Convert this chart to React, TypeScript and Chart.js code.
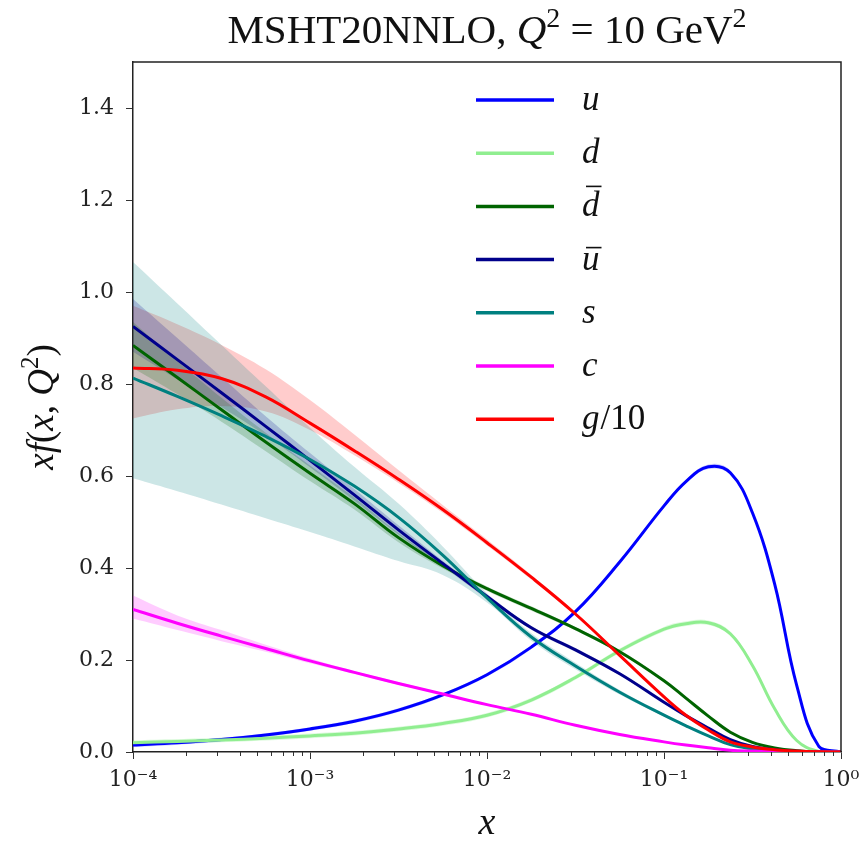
import React, { useEffect, useRef } from "react";
import { Chart, registerables } from "chart.js";
Chart.register(...registerables);

// ---------------- data ----------------
const xValues = [0.0001, 0.000178, 0.000316, 0.000562, 0.001, 0.00178, 0.00316, 0.00562, 0.01, 0.0178, 0.0316, 0.0562, 0.1, 0.133, 0.178, 0.237, 0.316, 0.422, 0.562, 0.75, 1.0];

const uMid = [0.015, 0.02, 0.027, 0.037, 0.05, 0.067, 0.091, 0.124, 0.168, 0.228, 0.305, 0.413, 0.535, 0.588, 0.62, 0.607, 0.52, 0.365, 0.145, 0.012, 0];
const uLo = [0.011, 0.016, 0.023, 0.033, 0.046, 0.063, 0.087, 0.120, 0.164, 0.224, 0.301, 0.409, 0.531, 0.584, 0.615, 0.602, 0.516, 0.361, 0.142, 0.011, 0];
const uHi = [0.019, 0.024, 0.031, 0.041, 0.054, 0.071, 0.095, 0.128, 0.172, 0.232, 0.309, 0.417, 0.539, 0.592, 0.625, 0.612, 0.524, 0.369, 0.148, 0.013, 0];

const dMid = [0.02, 0.023, 0.026, 0.03, 0.035, 0.041, 0.05, 0.062, 0.08, 0.113, 0.162, 0.22, 0.267, 0.279, 0.281, 0.257, 0.188, 0.094, 0.025, 0.001, 0];
const dLo = [0.015, 0.018, 0.021, 0.025, 0.030, 0.036, 0.045, 0.057, 0.075, 0.108, 0.157, 0.215, 0.262, 0.274, 0.276, 0.252, 0.184, 0.091, 0.024, 0.001, 0];
const dHi = [0.025, 0.028, 0.031, 0.035, 0.040, 0.046, 0.055, 0.067, 0.085, 0.118, 0.167, 0.225, 0.272, 0.284, 0.286, 0.262, 0.192, 0.097, 0.026, 0.001, 0];

const dbarMid = [0.884, 0.814, 0.744, 0.674, 0.606, 0.54, 0.466, 0.405, 0.355, 0.312, 0.268, 0.218, 0.155, 0.117, 0.078, 0.043, 0.021, 0.009, 0.003, 0.0005, 0];
const dbarLo = [0.835, 0.778, 0.718, 0.654, 0.589, 0.527, 0.456, 0.399, 0.35, 0.307, 0.264, 0.214, 0.152, 0.115, 0.077, 0.042, 0.021, 0.009, 0.003, 0.0005, 0];
const dbarHi = [0.935, 0.85, 0.77, 0.694, 0.623, 0.553, 0.476, 0.411, 0.36, 0.317, 0.272, 0.222, 0.158, 0.119, 0.079, 0.044, 0.021, 0.009, 0.003, 0.0005, 0];

const ubarMid = [0.925, 0.853, 0.781, 0.708, 0.634, 0.559, 0.483, 0.41, 0.338, 0.27, 0.222, 0.17, 0.108, 0.079, 0.052, 0.027, 0.012, 0.005, 0.0015, 0, 0];
const ubarLo = [0.87, 0.81, 0.75, 0.688, 0.619, 0.547, 0.473, 0.404, 0.333, 0.266, 0.218, 0.167, 0.106, 0.078, 0.051, 0.026, 0.012, 0.005, 0.0015, 0, 0];
const ubarHi = [0.985, 0.9, 0.815, 0.73, 0.65, 0.572, 0.493, 0.416, 0.343, 0.274, 0.226, 0.173, 0.11, 0.08, 0.053, 0.028, 0.012, 0.005, 0.0015, 0, 0];

const sMid = [0.813, 0.773, 0.731, 0.686, 0.636, 0.578, 0.51, 0.428, 0.335, 0.25, 0.187, 0.13, 0.08, 0.057, 0.035, 0.016, 0.007, 0.002, 0.0005, 0, 0];
const sLo = [0.595, 0.567, 0.538, 0.508, 0.478, 0.447, 0.415, 0.385, 0.325, 0.242, 0.18, 0.125, 0.077, 0.055, 0.034, 0.015, 0.007, 0.002, 0.0005, 0, 0];
const sHi = [1.065, 0.975, 0.885, 0.795, 0.705, 0.62, 0.54, 0.447, 0.345, 0.258, 0.194, 0.135, 0.083, 0.059, 0.036, 0.017, 0.007, 0.002, 0.0005, 0, 0];

const cMid = [0.31, 0.28, 0.252, 0.225, 0.198, 0.173, 0.149, 0.126, 0.103, 0.082, 0.058, 0.038, 0.022, 0.015, 0.009, 0.004, 0.002, 0.001, 0, 0, 0];
const cLo = [0.29, 0.265, 0.241, 0.218, 0.193, 0.170, 0.146, 0.124, 0.101, 0.080, 0.057, 0.037, 0.021, 0.014, 0.009, 0.004, 0.002, 0.001, 0, 0, 0];
const cHi = [0.34, 0.297, 0.265, 0.233, 0.203, 0.176, 0.152, 0.128, 0.105, 0.084, 0.059, 0.039, 0.023, 0.016, 0.009, 0.004, 0.002, 0.001, 0, 0, 0];

const gMid = [0.835, 0.83, 0.812, 0.772, 0.715, 0.655, 0.593, 0.527, 0.455, 0.38, 0.30, 0.21, 0.12, 0.08, 0.048, 0.022, 0.011, 0.005, 0.002, 0.0005, 0];
const gLo = [0.725, 0.745, 0.752, 0.74, 0.70, 0.645, 0.585, 0.52, 0.449, 0.375, 0.296, 0.207, 0.118, 0.079, 0.047, 0.022, 0.011, 0.005, 0.002, 0.0005, 0];
const gHi = [0.97, 0.93, 0.885, 0.832, 0.765, 0.69, 0.613, 0.537, 0.462, 0.385, 0.304, 0.213, 0.122, 0.081, 0.049, 0.022, 0.011, 0.005, 0.002, 0.0005, 0];

const seriesNames = ["u", "d", "dbar", "ubar", "s", "c", "g/10"];
const seriesColors = ["#0000ff", "#90ee90", "#006400", "#00008b", "#008080", "#ff00ff", "#ff0000"];
const bandColors = [
  "rgba(0,0,255,0.2)",
  "rgba(144,238,144,0.3)",
  "rgba(0,100,0,0.2)",
  "rgba(0,0,139,0.2)",
  "rgba(0,128,128,0.2)",
  "rgba(255,0,255,0.2)",
  "rgba(255,0,0,0.2)",
];

const xTickValues = [0.0001, 0.001, 0.01, 0.1, 1];
const xTickLabels = ["10\u207B\u2074", "10\u207B\u00B3", "10\u207B\u00B2", "10\u207B\u00B9", "10\u2070"];
const xMinorTicks = [
  0.0002, 0.0003, 0.0004, 0.0005, 0.0006, 0.0007, 0.0008, 0.0009,
  0.002, 0.003, 0.004, 0.005, 0.006, 0.007, 0.008, 0.009,
  0.02, 0.03, 0.04, 0.05, 0.06, 0.07, 0.08, 0.09,
  0.2, 0.3, 0.4, 0.5, 0.6, 0.7, 0.8, 0.9,
];
const yTickValues = [0, 0.2, 0.4, 0.6, 0.8, 1.0, 1.2, 1.4];

// legend labels: [italic part, upright part, overbar]
const legendParts: [string, string, boolean][] = [
  ["u", "", false],
  ["d", "", false],
  ["d", "", true],
  ["u", "", true],
  ["s", "", false],
  ["c", "", false],
  ["g", "/10", false],
];

const SERIF = "'Liberation Serif', 'DejaVu Serif', serif";
const TICKFONT = "'DejaVu Serif', serif";

type Part = { t: string; f: string; dy?: number };

function drawParts(ctx: CanvasRenderingContext2D, parts: Part[], cx: number, y: number) {
  let total = 0;
  for (const p of parts) {
    ctx.font = p.f;
    total += ctx.measureText(p.t).width;
  }
  let x = cx - total / 2;
  ctx.textAlign = "left";
  ctx.textBaseline = "alphabetic";
  for (const p of parts) {
    ctx.font = p.f;
    ctx.fillText(p.t, x, y + (p.dy || 0));
    x += ctx.measureText(p.t).width;
  }
}

const decorPlugin = {
  id: "decor",
  afterDraw(chart: any) {
    const ctx: CanvasRenderingContext2D = chart.ctx;
    const { left, right, top, bottom } = chart.chartArea;
    const xs = chart.scales.x;
    ctx.save();
    // frame (top & right spines)
    ctx.strokeStyle = "#222";
    ctx.lineWidth = 1.5;
    ctx.beginPath();
    ctx.moveTo(left, top);
    ctx.lineTo(right, top);
    ctx.lineTo(right, bottom);
    ctx.stroke();
    // minor ticks
    ctx.lineWidth = 1;
    ctx.strokeStyle = "#333";
    ctx.beginPath();
    for (const v of xMinorTicks) {
      const px = Math.round(xs.getPixelForValue(v)) + 0.5;
      ctx.moveTo(px, bottom);
      ctx.lineTo(px, bottom + 4);
    }
    ctx.stroke();

    ctx.fillStyle = "#111";
    // title
    drawParts(
      ctx,
      [
        { t: "MSHT20NNLO, ", f: `41px ${SERIF}` },
        { t: "Q", f: `italic 41px ${SERIF}` },
        { t: "2", f: `28px ${SERIF}`, dy: -16 },
        { t: " = 10 GeV", f: `41px ${SERIF}` },
        { t: "2", f: `28px ${SERIF}`, dy: -16 },
      ],
      (left + right) / 2,
      43
    );
    // x-axis title
    drawParts(ctx, [{ t: "x", f: `italic 38px ${SERIF}` }], (left + right) / 2, 834);
    // y-axis title (rotated)
    ctx.save();
    ctx.translate(53, (top + bottom) / 2);
    ctx.rotate(-Math.PI / 2);
    drawParts(
      ctx,
      [
        { t: "xf", f: `italic 37px ${SERIF}` },
        { t: "(", f: `37px ${SERIF}` },
        { t: "x", f: `italic 37px ${SERIF}` },
        { t: ", ", f: `37px ${SERIF}` },
        { t: "Q", f: `italic 37px ${SERIF}` },
        { t: "2", f: `25px ${SERIF}`, dy: -15 },
        { t: ")", f: `37px ${SERIF}` },
      ],
      0,
      0
    );
    ctx.restore();

    // legend
    const lx0 = 476, lx1 = 554, tx = 582;
    const rowY0 = 100, rowStep = 53.2;
    for (let i = 0; i < seriesNames.length; i++) {
      const y = rowY0 + i * rowStep;
      ctx.strokeStyle = seriesColors[i];
      ctx.lineWidth = 3.5;
      ctx.beginPath();
      ctx.moveTo(lx0, y);
      ctx.lineTo(lx1, y);
      ctx.stroke();
      const [it, up, bar] = legendParts[i];
      ctx.fillStyle = "#111";
      ctx.textAlign = "left";
      ctx.textBaseline = "alphabetic";
      ctx.font = `italic 35px ${SERIF}`;
      const base = y + 10;
      ctx.fillText(it, tx, base);
      const w = ctx.measureText(it).width;
      if (bar) {
        ctx.strokeStyle = "#111";
        ctx.lineWidth = 1.6;
        ctx.beginPath();
        const top2 = it === "d" ? base - 30 : base - 22;
        ctx.moveTo(tx + 4, top2);
        ctx.lineTo(tx + w + 2, top2);
        ctx.stroke();
      }
      if (up) {
        ctx.font = `35px ${SERIF}`;
        ctx.fillText(up, tx + w + 1, base);
      }
    }
    ctx.restore();
  },
};

export default function App() {
  const ref = useRef<HTMLCanvasElement>(null);
  useEffect(() => {
    const canvas = ref.current;
    if (!canvas) return;
    const mids = [uMid, dMid, dbarMid, ubarMid, sMid, cMid, gMid];
    const los = [uLo, dLo, dbarLo, ubarLo, sLo, cLo, gLo];
    const his = [uHi, dHi, dbarHi, ubarHi, sHi, cHi, gHi];
    const pts = (ys: number[]) => xValues.map((x, i) => ({ x, y: ys[i] }));
    const datasets: any[] = [];
    for (let i = 0; i < seriesNames.length; i++) {
      datasets.push({
        label: seriesNames[i] + " lo",
        data: pts(los[i]),
        borderColor: "rgba(0,0,0,0)",
        borderWidth: 0,
        pointRadius: 0,
        fill: false,
        order: 10,
        tension: 0.4,
      });
      datasets.push({
        label: seriesNames[i] + " hi",
        data: pts(his[i]),
        borderColor: "rgba(0,0,0,0)",
        borderWidth: 0,
        pointRadius: 0,
        fill: "-1",
        backgroundColor: bandColors[i],
        order: 10,
        tension: 0.4,
      });
    }
    for (let i = seriesNames.length - 1; i >= 0; i--) {
      datasets.push({
        label: seriesNames[i],
        data: pts(mids[i]),
        borderColor: seriesColors[i],
        borderWidth: 3,
        pointRadius: 0,
        fill: false,
        order: 0,
        tension: 0.4,
      });
    }

    const chart = new Chart(canvas, {
      type: "line",
      data: { datasets },
      plugins: [decorPlugin],
      options: {
        animation: false,
        responsive: false,
        devicePixelRatio: 1,
        layout: { padding: { top: 62, right: 18, left: 0, bottom: 0 } },
        plugins: {
          legend: { display: false },
          title: { display: false },
          tooltip: { enabled: false },
        },
        scales: {
          x: {
            type: "logarithmic",
            min: 0.0001,
            max: 1,
            afterBuildTicks: (scale: any) => {
              scale.ticks = xTickValues.map((v) => ({ value: v, major: true }));
            },
            afterFit: (scale: any) => {
              scale.height = 89;
              scale.paddingLeft = 0;
              scale.paddingRight = 0;
            },
            ticks: {
              autoSkip: false,
              maxRotation: 0,
              padding: 8,
              color: "#222",
              font: { family: TICKFONT, size: 22 },
              callback: (v: any) => {
                const idx = xTickValues.findIndex((t) => Math.abs(Math.log10(t) - Math.log10(Number(v))) < 1e-6);
                return idx >= 0 ? xTickLabels[idx] : "";
              },
            },
            grid: { drawOnChartArea: false, drawTicks: true, tickLength: 7, color: "#333", lineWidth: 1 },
            border: { display: true, color: "#222", width: 1.5 },
          },
          y: {
            type: "linear",
            min: 0,
            max: 1.5,
            afterBuildTicks: (scale: any) => {
              scale.ticks = yTickValues.map((v) => ({ value: v }));
            },
            afterFit: (scale: any) => {
              scale.width = 133;
              scale.paddingTop = 0;
              scale.paddingBottom = 0;
            },
            ticks: {
              padding: 12,
              color: "#222",
              font: { family: TICKFONT, size: 22 },
              callback: (v: any) => Number(v).toFixed(1),
            },
            grid: { drawOnChartArea: false, drawTicks: true, tickLength: 7, color: "#333", lineWidth: 1 },
            border: { display: true, color: "#222", width: 1.5 },
          },
        },
      } as any,
    });
    return () => chart.destroy();
  }, []);

  return (
    <div style={{ position: "fixed", left: 0, top: 0, width: 859, height: 841, background: "#fff" }}>
      <canvas ref={ref} width={859} height={841} style={{ display: "block", width: 859, height: 841 }} />
    </div>
  );
}
